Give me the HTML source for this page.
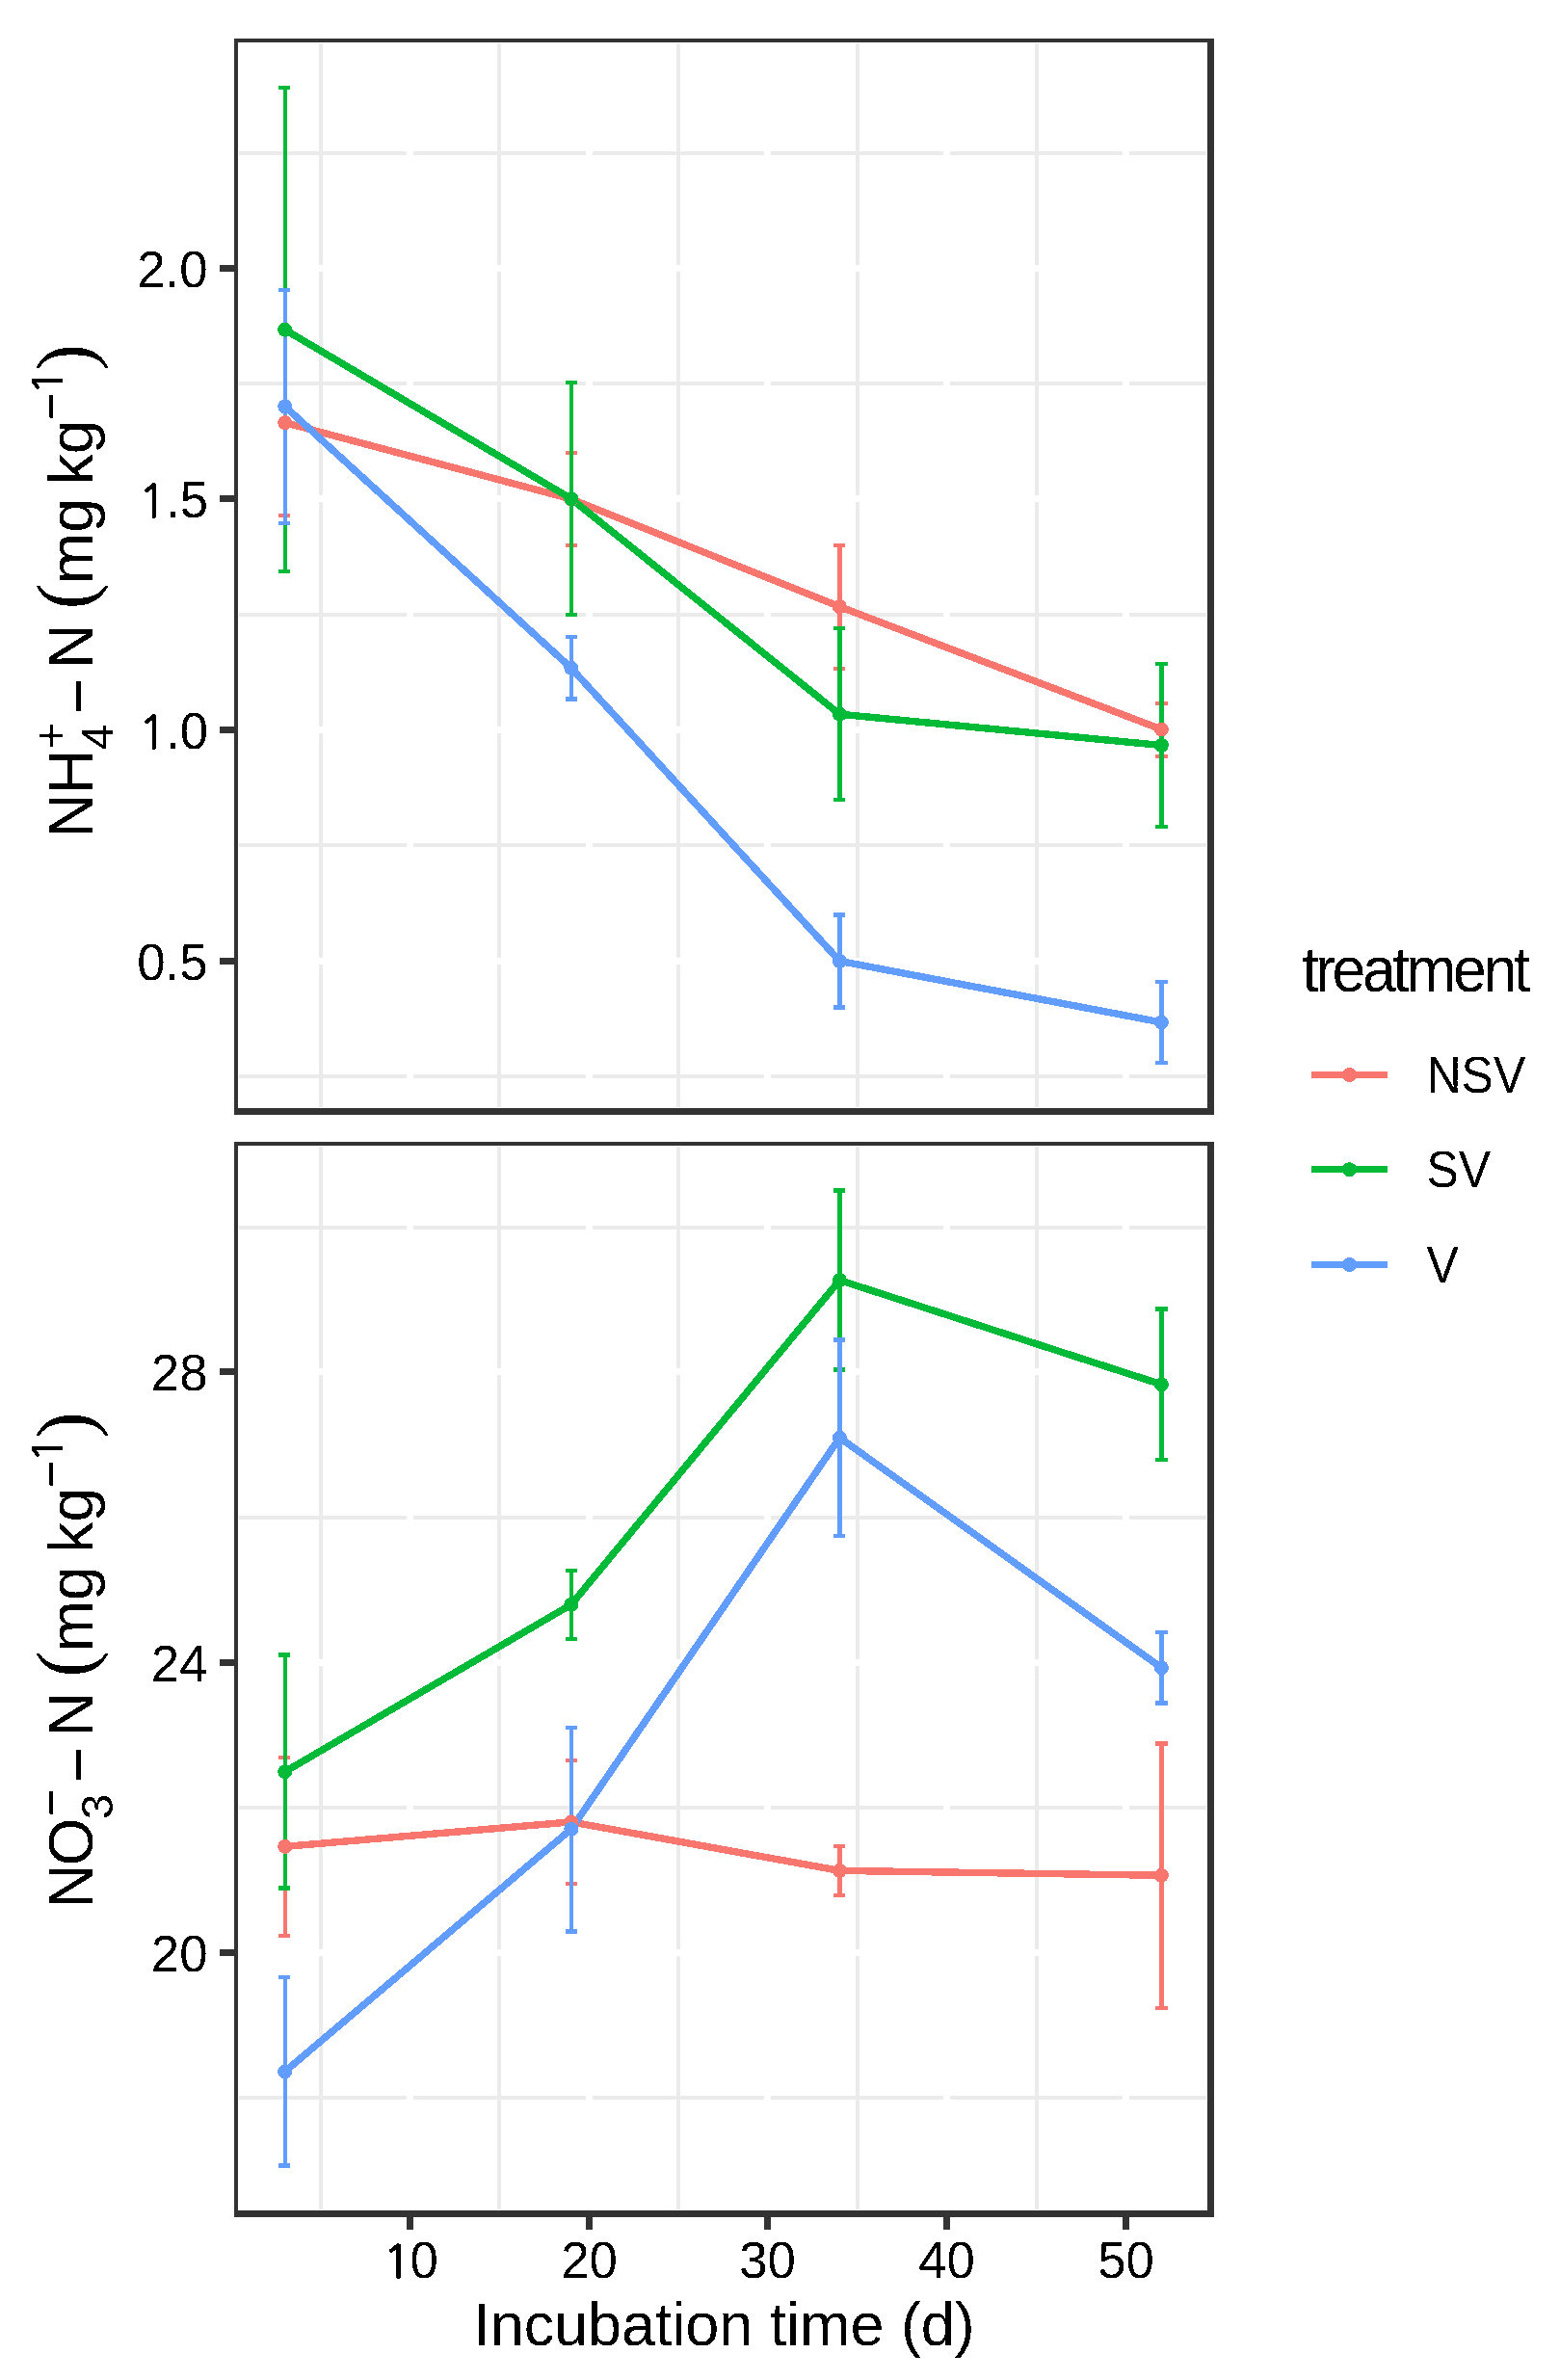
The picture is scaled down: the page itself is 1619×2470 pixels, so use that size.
<!DOCTYPE html>
<html lang="en"><head><meta charset="utf-8"><title>Incubation time vs mineral N</title>
<style>html,body{margin:0;padding:0;background:#fff}svg{display:block}text{font-family:"Liberation Sans", sans-serif;fill:#000}</style></head><body>
<svg width="1619" height="2470" viewBox="0 0 1619 2470" shape-rendering="crispEdges">
<rect x="0" y="0" width="1619" height="2470" fill="#ffffff"/>
<defs><filter id="crisp" filterUnits="userSpaceOnUse" x="0" y="0" width="1619" height="2470" color-interpolation-filters="sRGB"><feComponentTransfer><feFuncA type="discrete" tableValues="0 1"/></feComponentTransfer></filter></defs>
<g>
<line x1="248" x2="1252" y1="159" y2="159" stroke="#EBEBEB" stroke-width="4"/>
<line x1="248" x2="1252" y1="398" y2="398" stroke="#EBEBEB" stroke-width="4"/>
<line x1="248" x2="1252" y1="638" y2="638" stroke="#EBEBEB" stroke-width="4"/>
<line x1="248" x2="1252" y1="877" y2="877" stroke="#EBEBEB" stroke-width="4"/>
<line x1="248" x2="1252" y1="1117" y2="1117" stroke="#EBEBEB" stroke-width="4"/>
<line x1="333" x2="333" y1="45" y2="1149" stroke="#EBEBEB" stroke-width="4"/>
<line x1="518" x2="518" y1="45" y2="1149" stroke="#EBEBEB" stroke-width="4"/>
<line x1="704" x2="704" y1="45" y2="1149" stroke="#EBEBEB" stroke-width="4"/>
<line x1="890" x2="890" y1="45" y2="1149" stroke="#EBEBEB" stroke-width="4"/>
<line x1="1076" x2="1076" y1="45" y2="1149" stroke="#EBEBEB" stroke-width="4"/>
<line x1="247" x2="1253" y1="278.5" y2="278.5" stroke="#fff" stroke-width="7"/>
<line x1="247" x2="1253" y1="517.5" y2="517.5" stroke="#fff" stroke-width="7"/>
<line x1="247" x2="1253" y1="757.5" y2="757.5" stroke="#fff" stroke-width="7"/>
<line x1="247" x2="1253" y1="997.5" y2="997.5" stroke="#fff" stroke-width="7"/>
<line x1="425.5" x2="425.5" y1="44" y2="1150" stroke="#fff" stroke-width="7"/>
<line x1="611.5" x2="611.5" y1="44" y2="1150" stroke="#fff" stroke-width="7"/>
<line x1="796.5" x2="796.5" y1="44" y2="1150" stroke="#fff" stroke-width="7"/>
<line x1="982.5" x2="982.5" y1="44" y2="1150" stroke="#fff" stroke-width="7"/>
<line x1="1168.5" x2="1168.5" y1="44" y2="1150" stroke="#fff" stroke-width="7"/>
</g>
<g>
<line x1="248" x2="1252" y1="1274" y2="1274" stroke="#EBEBEB" stroke-width="4"/>
<line x1="248" x2="1252" y1="1575" y2="1575" stroke="#EBEBEB" stroke-width="4"/>
<line x1="248" x2="1252" y1="1876" y2="1876" stroke="#EBEBEB" stroke-width="4"/>
<line x1="248" x2="1252" y1="2177" y2="2177" stroke="#EBEBEB" stroke-width="4"/>
<line x1="333" x2="333" y1="1190" y2="2293" stroke="#EBEBEB" stroke-width="4"/>
<line x1="518" x2="518" y1="1190" y2="2293" stroke="#EBEBEB" stroke-width="4"/>
<line x1="704" x2="704" y1="1190" y2="2293" stroke="#EBEBEB" stroke-width="4"/>
<line x1="890" x2="890" y1="1190" y2="2293" stroke="#EBEBEB" stroke-width="4"/>
<line x1="1076" x2="1076" y1="1190" y2="2293" stroke="#EBEBEB" stroke-width="4"/>
<line x1="247" x2="1253" y1="1423.5" y2="1423.5" stroke="#fff" stroke-width="7"/>
<line x1="247" x2="1253" y1="1725.5" y2="1725.5" stroke="#fff" stroke-width="7"/>
<line x1="247" x2="1253" y1="2026.5" y2="2026.5" stroke="#fff" stroke-width="7"/>
<line x1="425.5" x2="425.5" y1="1189" y2="2294" stroke="#fff" stroke-width="7"/>
<line x1="611.5" x2="611.5" y1="1189" y2="2294" stroke="#fff" stroke-width="7"/>
<line x1="796.5" x2="796.5" y1="1189" y2="2294" stroke="#fff" stroke-width="7"/>
<line x1="982.5" x2="982.5" y1="1189" y2="2294" stroke="#fff" stroke-width="7"/>
<line x1="1168.5" x2="1168.5" y1="1189" y2="2294" stroke="#fff" stroke-width="7"/>
</g>
<g fill="none">
<path d="M289 342H301M296 342V535M289 535H301" stroke="#F8766D" stroke-width="4.45"/>
<path d="M587 470H599M593 470V566M587 566H599" stroke="#F8766D" stroke-width="4.45"/>
<path d="M865 566H877M871.5 566V694M865 694H877" stroke="#F8766D" stroke-width="4.45"/>
<path d="M1199 730H1212M1205.5 730V785M1199 785H1212" stroke="#F8766D" stroke-width="4.45"/>
<path d="M289 91H301M296 91V593M289 593H301" stroke="#00BA38" stroke-width="4.45"/>
<path d="M587 397H599M593 397V638M587 638H599" stroke="#00BA38" stroke-width="4.45"/>
<path d="M865 652H877M871.5 652V830M865 830H877" stroke="#00BA38" stroke-width="4.45"/>
<path d="M1199 689H1212M1205.5 689V858M1199 858H1212" stroke="#00BA38" stroke-width="4.45"/>
<path d="M289 301H301M296 301V543M289 543H301" stroke="#619CFF" stroke-width="4.45"/>
<path d="M587 661H599M593 661V725.5M587 725.5H599" stroke="#619CFF" stroke-width="4.45"/>
<path d="M865 949.5H877M871.5 949.5V1045.5M865 1045.5H877" stroke="#619CFF" stroke-width="4.45"/>
<path d="M1199 1019H1212M1205.5 1019V1103M1199 1103H1212" stroke="#619CFF" stroke-width="4.45"/>
<polyline points="295.7,438.6 592.8,517.9 871.4,629.6 1205.4,757" stroke="#F8766D" stroke-width="7.4" stroke-linejoin="round" stroke-linecap="butt"/>
<polyline points="295.7,342.2 592.8,517.6 871.4,741.2 1205.4,773.5" stroke="#00BA38" stroke-width="7.4" stroke-linejoin="round" stroke-linecap="butt"/>
<polyline points="295.7,421.8 592.8,693.3 871.4,997.4 1205.4,1061" stroke="#619CFF" stroke-width="7.4" stroke-linejoin="round" stroke-linecap="butt"/>
<circle cx="295.7" cy="438.6" r="7.5" fill="#F8766D"/>
<circle cx="592.8" cy="517.9" r="7.5" fill="#F8766D"/>
<circle cx="871.4" cy="629.6" r="7.5" fill="#F8766D"/>
<circle cx="1205.4" cy="757" r="7.5" fill="#F8766D"/>
<circle cx="295.7" cy="342.2" r="7.5" fill="#00BA38"/>
<circle cx="592.8" cy="517.6" r="7.5" fill="#00BA38"/>
<circle cx="871.4" cy="741.2" r="7.5" fill="#00BA38"/>
<circle cx="1205.4" cy="773.5" r="7.5" fill="#00BA38"/>
<circle cx="295.7" cy="421.8" r="7.5" fill="#619CFF"/>
<circle cx="592.8" cy="693.3" r="7.5" fill="#619CFF"/>
<circle cx="871.4" cy="997.4" r="7.5" fill="#619CFF"/>
<circle cx="1205.4" cy="1061" r="7.5" fill="#619CFF"/>
</g>
<g fill="none">
<path d="M289 1824H301M296 1824V2009M289 2009H301" stroke="#F8766D" stroke-width="4.45"/>
<path d="M587 1827H599M593 1827V1955M587 1955H599" stroke="#F8766D" stroke-width="4.45"/>
<path d="M865 1916H877M871.5 1916V1967M865 1967H877" stroke="#F8766D" stroke-width="4.45"/>
<path d="M1199 1809.5H1212M1205.5 1809.5V2084M1199 2084H1212" stroke="#F8766D" stroke-width="4.45"/>
<path d="M289 1717.5H301M296 1717.5V1959.5M289 1959.5H301" stroke="#00BA38" stroke-width="4.45"/>
<path d="M587 1630H599M593 1630V1701M587 1701H599" stroke="#00BA38" stroke-width="4.45"/>
<path d="M865 1235.5H877M871.5 1235.5V1421.5M865 1421.5H877" stroke="#00BA38" stroke-width="4.45"/>
<path d="M1199 1358.5H1212M1205.5 1358.5V1515M1199 1515H1212" stroke="#00BA38" stroke-width="4.45"/>
<path d="M289 2052H301M296 2052V2247.5M289 2247.5H301" stroke="#619CFF" stroke-width="4.45"/>
<path d="M587 1793H599M593 1793V2004.5M587 2004.5H599" stroke="#619CFF" stroke-width="4.45"/>
<path d="M865 1390.5H877M871.5 1390.5V1594M865 1594H877" stroke="#619CFF" stroke-width="4.45"/>
<path d="M1199 1694H1212M1205.5 1694V1767.5M1199 1767.5H1212" stroke="#619CFF" stroke-width="4.45"/>
<polyline points="295.7,1916.4 592.8,1890.9 871.4,1941.4 1205.4,1946.3" stroke="#F8766D" stroke-width="7.4" stroke-linejoin="round" stroke-linecap="butt"/>
<polyline points="295.7,1838.7 592.8,1665.3 871.4,1328.6 1205.4,1436.8" stroke="#00BA38" stroke-width="7.4" stroke-linejoin="round" stroke-linecap="butt"/>
<polyline points="295.7,2149.9 592.8,1898.3 871.4,1492.1 1205.4,1730.8" stroke="#619CFF" stroke-width="7.4" stroke-linejoin="round" stroke-linecap="butt"/>
<circle cx="295.7" cy="1916.4" r="7.5" fill="#F8766D"/>
<circle cx="592.8" cy="1890.9" r="7.5" fill="#F8766D"/>
<circle cx="871.4" cy="1941.4" r="7.5" fill="#F8766D"/>
<circle cx="1205.4" cy="1946.3" r="7.5" fill="#F8766D"/>
<circle cx="295.7" cy="1838.7" r="7.5" fill="#00BA38"/>
<circle cx="592.8" cy="1665.3" r="7.5" fill="#00BA38"/>
<circle cx="871.4" cy="1328.6" r="7.5" fill="#00BA38"/>
<circle cx="1205.4" cy="1436.8" r="7.5" fill="#00BA38"/>
<circle cx="295.7" cy="2149.9" r="7.5" fill="#619CFF"/>
<circle cx="592.8" cy="1898.3" r="7.5" fill="#619CFF"/>
<circle cx="871.4" cy="1492.1" r="7.5" fill="#619CFF"/>
<circle cx="1205.4" cy="1730.8" r="7.5" fill="#619CFF"/>
</g>
<path fill="#333333" fill-rule="evenodd" d="M243 40H1260V1157H243ZM247 44H1253V1150H247Z"/>
<line x1="228" x2="243.5" y1="278.5" y2="278.5" stroke="#333333" stroke-width="7"/>
<line x1="228" x2="243.5" y1="517.5" y2="517.5" stroke="#333333" stroke-width="7"/>
<line x1="228" x2="243.5" y1="757.5" y2="757.5" stroke="#333333" stroke-width="7"/>
<line x1="228" x2="243.5" y1="997.5" y2="997.5" stroke="#333333" stroke-width="7"/>
<path fill="#333333" fill-rule="evenodd" d="M243 1185H1260V2301H243ZM247 1189H1253V2294H247Z"/>
<line x1="228" x2="243.5" y1="1423.5" y2="1423.5" stroke="#333333" stroke-width="7"/>
<line x1="228" x2="243.5" y1="1725.5" y2="1725.5" stroke="#333333" stroke-width="7"/>
<line x1="228" x2="243.5" y1="2026.5" y2="2026.5" stroke="#333333" stroke-width="7"/>
<line x1="425.5" x2="425.5" y1="2300.5" y2="2314" stroke="#333333" stroke-width="7"/>
<line x1="611.5" x2="611.5" y1="2300.5" y2="2314" stroke="#333333" stroke-width="7"/>
<line x1="796.5" x2="796.5" y1="2300.5" y2="2314" stroke="#333333" stroke-width="7"/>
<line x1="982.5" x2="982.5" y1="2300.5" y2="2314" stroke="#333333" stroke-width="7"/>
<line x1="1168.5" x2="1168.5" y1="2300.5" y2="2314" stroke="#333333" stroke-width="7"/>
<line x1="1360.8" x2="1440.2" y1="1115.4" y2="1115.4" stroke="#F8766D" stroke-width="7.4"/>
<circle cx="1400.5" cy="1115.4" r="7.5" fill="#F8766D"/>
<line x1="1360.8" x2="1440.2" y1="1213.7" y2="1213.7" stroke="#00BA38" stroke-width="7.4"/>
<circle cx="1400.5" cy="1213.7" r="7.5" fill="#00BA38"/>
<line x1="1360.8" x2="1440.2" y1="1312.5" y2="1312.5" stroke="#619CFF" stroke-width="7.4"/>
<circle cx="1400.5" cy="1312.5" r="7.5" fill="#619CFF"/>
<g filter="url(#crisp)">
<text transform="translate(215.6 297.8) scale(1 1)" font-size="52.8" text-anchor="end">2.0</text>
<text transform="translate(215.6 536.8) scale(1 1)" font-size="52.8" text-anchor="end"><tspan style="font-family:NanumGothic,'Liberation Sans',sans-serif" font-size="47.52" dx="0.6336" stroke="#000" stroke-width="1.2672">1</tspan><tspan dx="-0.6336">.5</tspan></text>
<text transform="translate(215.6 776.8) scale(1 1)" font-size="52.8" text-anchor="end"><tspan style="font-family:NanumGothic,'Liberation Sans',sans-serif" font-size="47.52" dx="0.6336" stroke="#000" stroke-width="1.2672">1</tspan><tspan dx="-0.6336">.0</tspan></text>
<text transform="translate(215.6 1016.8) scale(1 1)" font-size="52.8" text-anchor="end">0.5</text>
<text transform="translate(215.6 1442.8) scale(1 1)" font-size="52.8" text-anchor="end">28</text>
<text transform="translate(215.6 1744.8) scale(1 1)" font-size="52.8" text-anchor="end">24</text>
<text transform="translate(215.6 2045.8) scale(1 1)" font-size="52.8" text-anchor="end">20</text>
<text transform="translate(425.5 2363.6) scale(1 1)" font-size="52.8" text-anchor="middle"><tspan style="font-family:NanumGothic,'Liberation Sans',sans-serif" font-size="47.52" dx="0.6336" stroke="#000" stroke-width="1.2672">1</tspan><tspan dx="-0.6336">0</tspan></text>
<text transform="translate(611.5 2363.6) scale(1 1)" font-size="52.8" text-anchor="middle">20</text>
<text transform="translate(796.5 2363.6) scale(1 1)" font-size="52.8" text-anchor="middle">30</text>
<text transform="translate(982.5 2363.6) scale(1 1)" font-size="52.8" text-anchor="middle">40</text>
<text transform="translate(1168.5 2363.6) scale(1 1)" font-size="52.8" text-anchor="middle">50</text>
<text x="751.5" y="2434" font-size="63" text-anchor="middle" textLength="520.5" lengthAdjust="spacing">Incubation time (d)</text>
<text transform="translate(1351.2 1028.5) scale(0.95 1)" font-size="66" letter-spacing="-3.65">treatment</text>
<text transform="translate(1480.5 1133.8) scale(1 1.055)" font-size="50">NSV</text>
<text transform="translate(1480.5 1232.1) scale(1 1.055)" font-size="50">SV</text>
<text transform="translate(1480.5 1330.9) scale(1 1.055)" font-size="50">V</text>
<g transform="rotate(-90)">
<text x="-869.5" y="96" font-size="64">N</text>
<text x="-824" y="96" font-size="64">H</text>
<text x="-778" y="117.1" font-size="47">4</text>
<text x="-777.8" y="69.4" font-size="49">+</text>
<text x="-741" y="102.3" font-size="62" stroke="#000" stroke-width="1">−</text>
<text x="-694" y="96" font-size="64">N</text>
<text x="-632.2" y="94.9" font-size="81.5" style="font-family:'Liberation Serif',serif">(</text>
<text x="-606.2" y="96" font-size="64">mg</text>
<text x="-503.2" y="96" font-size="64">kg</text>
<text x="-435.4" y="68.9" font-size="47" stroke="#000" stroke-width="0.6">−</text>
<text x="-410" y="65.1" font-size="47"><tspan style="font-family:NanumGothic,'Liberation Sans',sans-serif" font-size="42.3" dx="0.564" stroke="#000" stroke-width="1.128">1</tspan><tspan dx="-0.564"></tspan></text>
<text x="-384.3" y="94.9" font-size="81.5" style="font-family:'Liberation Serif',serif">)</text>
</g><!--t-->
<g transform="rotate(-90)">
<text x="-1980.7" y="96" font-size="64">N</text>
<text x="-1936.5" y="96" font-size="64">O</text>
<text x="-1888" y="117.3" font-size="47">3</text>
<text x="-1884.4" y="68.9" font-size="47" stroke="#000" stroke-width="0.6">−</text>
<text x="-1849.2" y="102.3" font-size="62" stroke="#000" stroke-width="1">−</text>
<text x="-1802.2" y="96" font-size="64">N</text>
<text x="-1740.4" y="94.9" font-size="81.5" style="font-family:'Liberation Serif',serif">(</text>
<text x="-1714.4" y="96" font-size="64">mg</text>
<text x="-1611.4" y="96" font-size="64">kg</text>
<text x="-1543.6" y="68.9" font-size="47" stroke="#000" stroke-width="0.6">−</text>
<text x="-1518.2" y="65.1" font-size="47"><tspan style="font-family:NanumGothic,'Liberation Sans',sans-serif" font-size="42.3" dx="0.564" stroke="#000" stroke-width="1.128">1</tspan><tspan dx="-0.564"></tspan></text>
<text x="-1492.5" y="94.9" font-size="81.5" style="font-family:'Liberation Serif',serif">)</text>
</g><!--t-->
</g>
</svg></body></html>
